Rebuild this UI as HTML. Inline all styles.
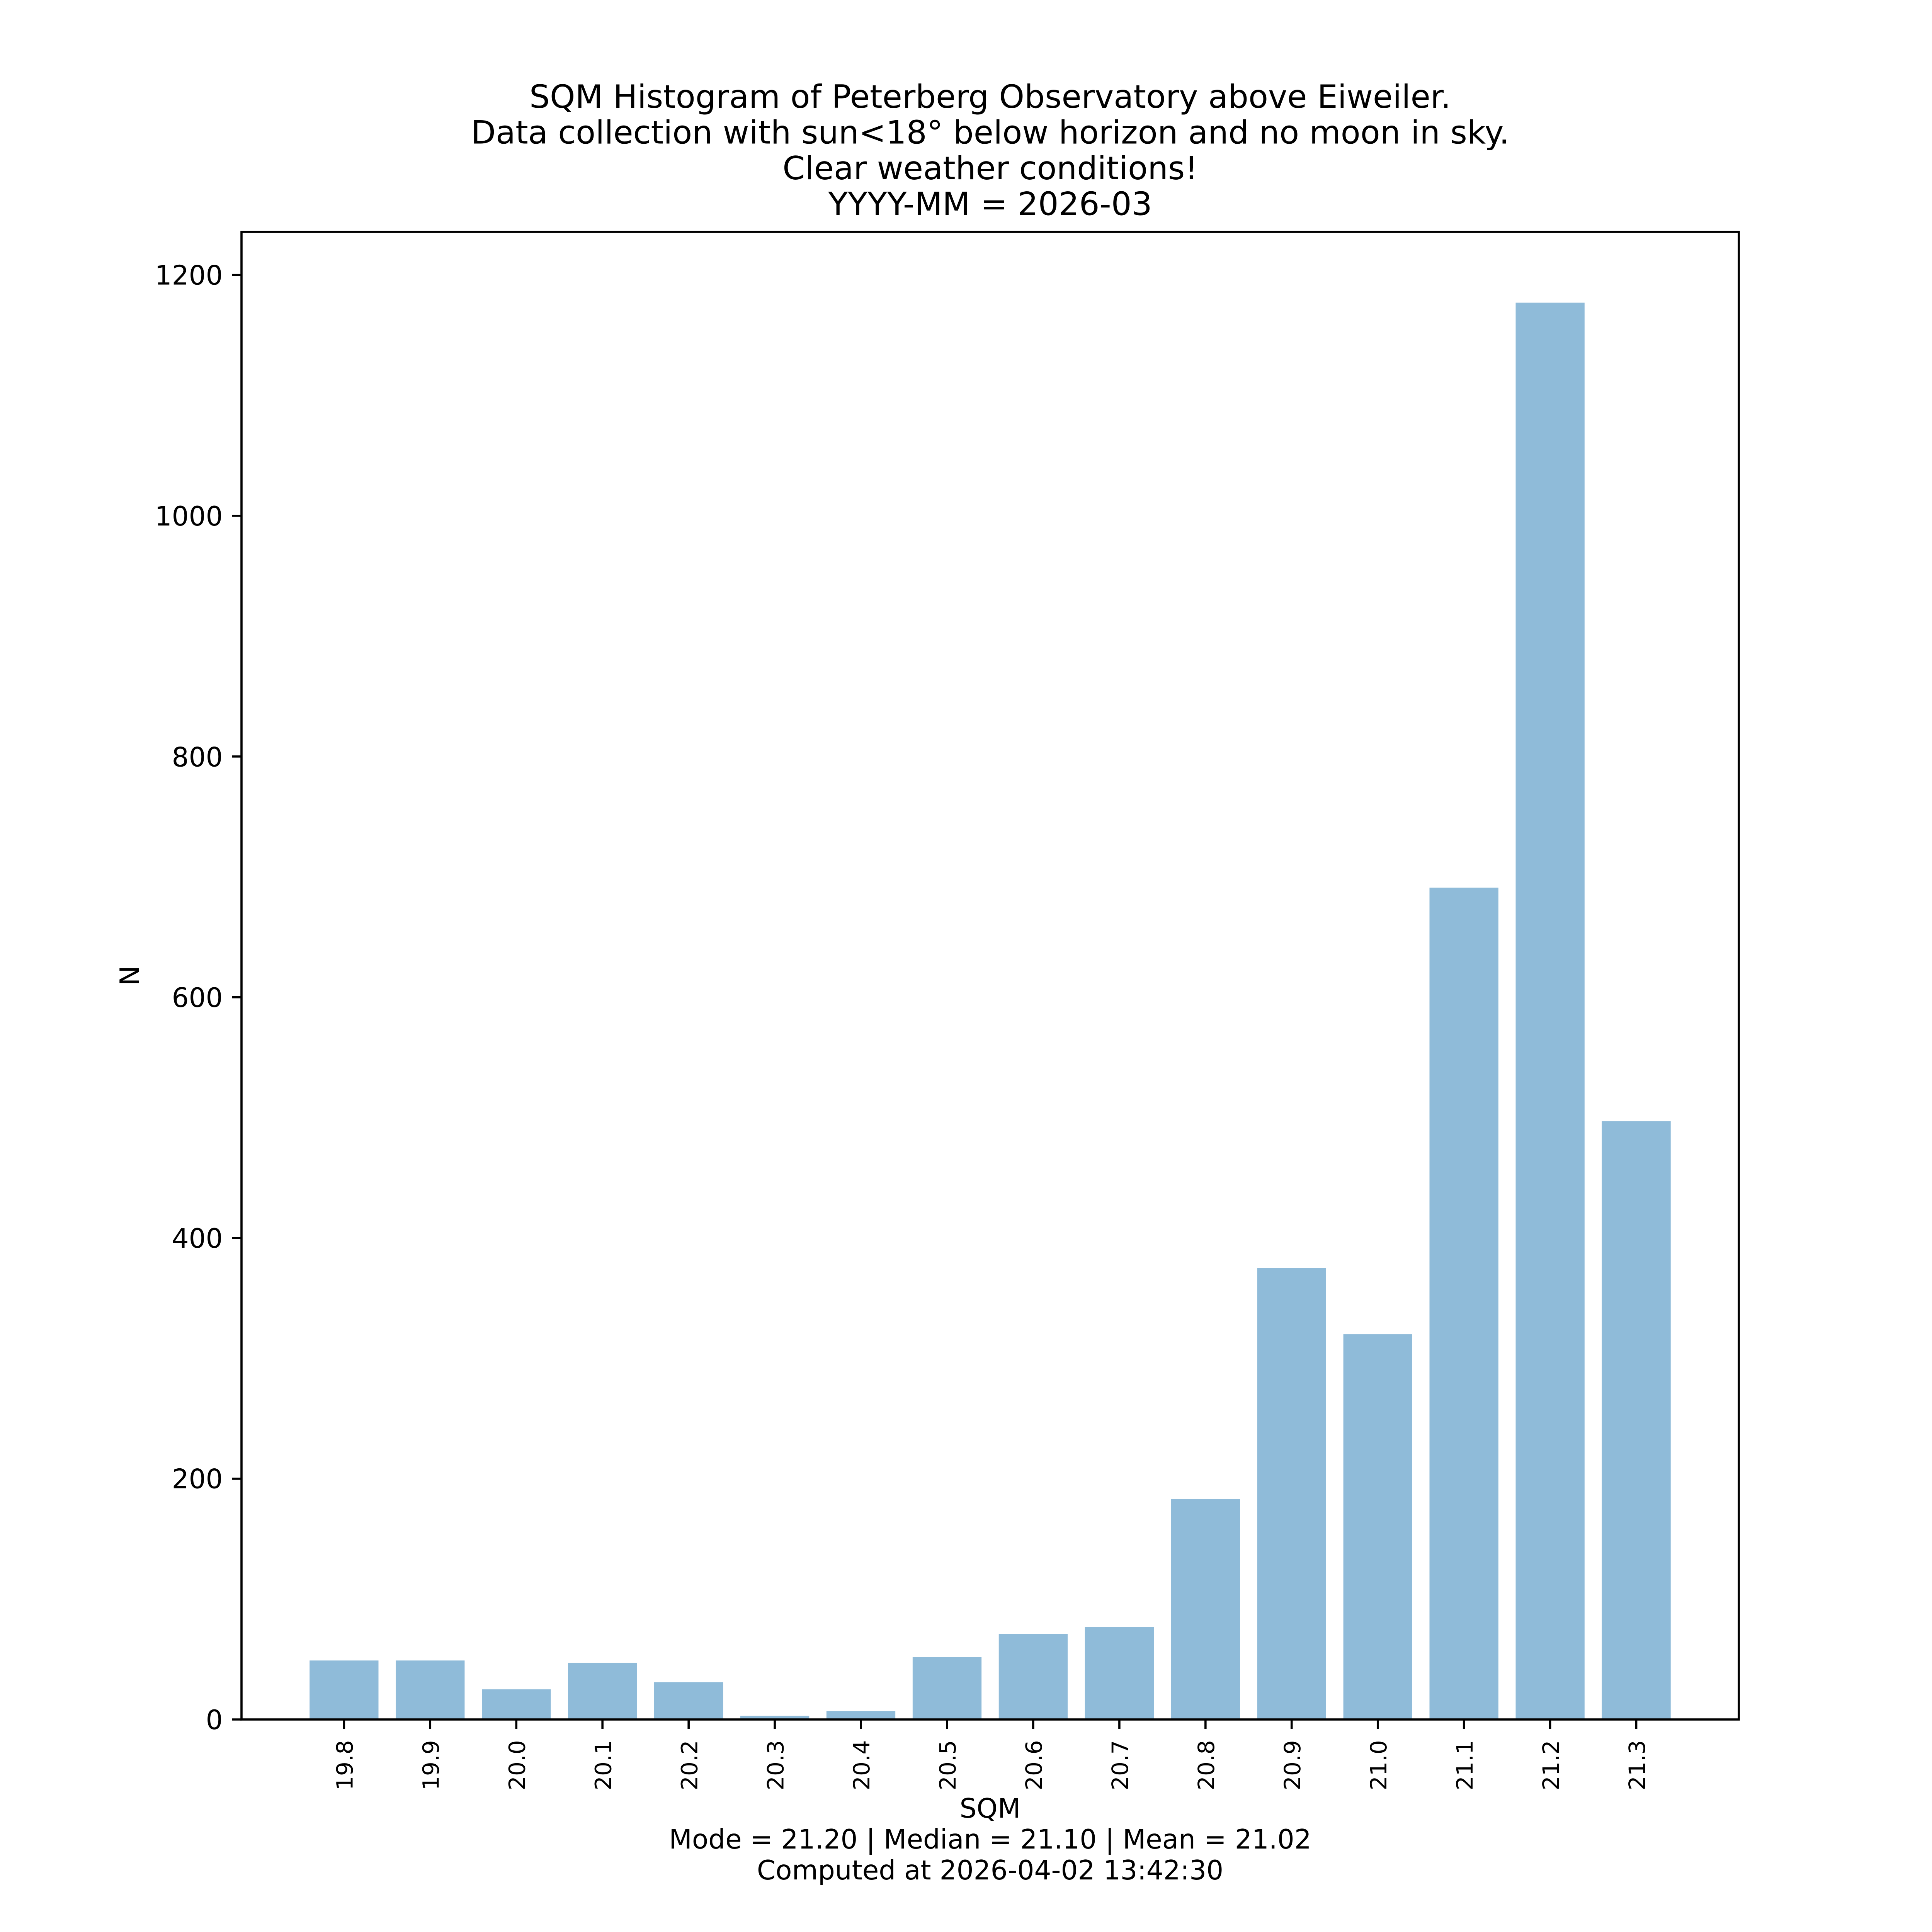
<!DOCTYPE html>
<html><head><meta charset="utf-8"><style>html,body{margin:0;padding:0;background:#fff;width:100%;height:100%;overflow:hidden}svg{display:block;width:100vw;height:100vh}</style></head>
<body>
<svg viewBox="0 0 6000 6000" preserveAspectRatio="none" xmlns="http://www.w3.org/2000/svg" font-family="DejaVu Sans, Liberation Sans, sans-serif">
<rect width="6000" height="6000" fill="#fff"/>
<g fill="#8fbbd9">
<rect x="961.4" y="5156.8" width="214" height="183.2"/>
<rect x="1228.9" y="5156.8" width="214" height="183.2"/>
<rect x="1496.5" y="5246.5" width="214" height="93.5"/>
<rect x="1764.0" y="5164.3" width="214" height="175.7"/>
<rect x="2031.6" y="5224.1" width="214" height="115.9"/>
<rect x="2299.1" y="5328.8" width="214" height="11.2"/>
<rect x="2566.6" y="5313.8" width="214" height="26.2"/>
<rect x="2834.2" y="5145.6" width="214" height="194.4"/>
<rect x="3101.7" y="5074.6" width="214" height="265.4"/>
<rect x="3369.3" y="5052.2" width="214" height="287.8"/>
<rect x="3636.8" y="4655.9" width="214" height="684.1"/>
<rect x="3904.3" y="3938.1" width="214" height="1401.9"/>
<rect x="4171.9" y="4143.7" width="214" height="1196.3"/>
<rect x="4439.4" y="2756.8" width="214" height="2583.2"/>
<rect x="4707.0" y="940" width="214" height="4400"/>
<rect x="4974.5" y="3482.1" width="214" height="1857.9"/>
</g>
<rect x="750" y="720" width="4650" height="4620" fill="none" stroke="#000" stroke-width="6.7" stroke-linejoin="miter"/>
<g stroke="#000" stroke-width="6.7">
<line x1="750" y1="5340" x2="721" y2="5340"/>
<line x1="750" y1="4592.3" x2="721" y2="4592.3"/>
<line x1="750" y1="3844.7" x2="721" y2="3844.7"/>
<line x1="750" y1="3097" x2="721" y2="3097"/>
<line x1="750" y1="2349.4" x2="721" y2="2349.4"/>
<line x1="750" y1="1601.7" x2="721" y2="1601.7"/>
<line x1="750" y1="854" x2="721" y2="854"/>
</g>
<g font-size="83" text-anchor="end" fill="#000">
<text x="692" y="5370">0</text>
<text x="692" y="4622">200</text>
<text x="692" y="3875">400</text>
<text x="692" y="3127">600</text>
<text x="692" y="2380">800</text>
<text x="692" y="1632">1000</text>
<text x="692" y="884">1200</text>
</g>
<g stroke="#000" stroke-width="6.7">
<line x1="1068.4" y1="5340" x2="1068.4" y2="5369"/>
<line x1="1335.9" y1="5340" x2="1335.9" y2="5369"/>
<line x1="1603.5" y1="5340" x2="1603.5" y2="5369"/>
<line x1="1871.0" y1="5340" x2="1871.0" y2="5369"/>
<line x1="2138.6" y1="5340" x2="2138.6" y2="5369"/>
<line x1="2406.1" y1="5340" x2="2406.1" y2="5369"/>
<line x1="2673.6" y1="5340" x2="2673.6" y2="5369"/>
<line x1="2941.2" y1="5340" x2="2941.2" y2="5369"/>
<line x1="3208.7" y1="5340" x2="3208.7" y2="5369"/>
<line x1="3476.3" y1="5340" x2="3476.3" y2="5369"/>
<line x1="3743.8" y1="5340" x2="3743.8" y2="5369"/>
<line x1="4011.3" y1="5340" x2="4011.3" y2="5369"/>
<line x1="4278.9" y1="5340" x2="4278.9" y2="5369"/>
<line x1="4546.4" y1="5340" x2="4546.4" y2="5369"/>
<line x1="4814.0" y1="5340" x2="4814.0" y2="5369"/>
<line x1="5081.5" y1="5340" x2="5081.5" y2="5369"/>
</g>
<g font-size="70" text-anchor="end" fill="#000">
<text transform="translate(1095,5404) rotate(-90)">19.8</text>
<text transform="translate(1362.5,5404) rotate(-90)">19.9</text>
<text transform="translate(1630.1,5404) rotate(-90)">20.0</text>
<text transform="translate(1897.6,5404) rotate(-90)">20.1</text>
<text transform="translate(2165.2,5404) rotate(-90)">20.2</text>
<text transform="translate(2432.7,5404) rotate(-90)">20.3</text>
<text transform="translate(2700.2,5404) rotate(-90)">20.4</text>
<text transform="translate(2967.8,5404) rotate(-90)">20.5</text>
<text transform="translate(3235.3,5404) rotate(-90)">20.6</text>
<text transform="translate(3502.9,5404) rotate(-90)">20.7</text>
<text transform="translate(3770.4,5404) rotate(-90)">20.8</text>
<text transform="translate(4037.9,5404) rotate(-90)">20.9</text>
<text transform="translate(4305.5,5404) rotate(-90)">21.0</text>
<text transform="translate(4573.0,5404) rotate(-90)">21.1</text>
<text transform="translate(4840.6,5404) rotate(-90)">21.2</text>
<text transform="translate(5108.1,5404) rotate(-90)">21.3</text>
</g>
<g font-size="83" text-anchor="middle" fill="#000">
<text x="3075" y="5645">SQM</text>
<text x="3075" y="5741">Mode = 21.20 | Median = 21.10 | Mean = 21.02</text>
<text x="3075" y="5837">Computed at 2026-04-02 13:42:30</text>
<text transform="translate(432,3030) rotate(-90)">N</text>
</g>
<g font-size="100" text-anchor="middle" fill="#000">
<text x="3075" y="335">SQM Histogram of Peterberg Observatory above Eiweiler.</text>
<text x="3075" y="446">Data collection with sun&lt;18° below horizon and no moon in sky.</text>
<text x="3075" y="557">Clear weather conditions!</text>
<text x="3075" y="668">YYYY-MM = 2026-03</text>
</g>
</svg>
</body></html>
